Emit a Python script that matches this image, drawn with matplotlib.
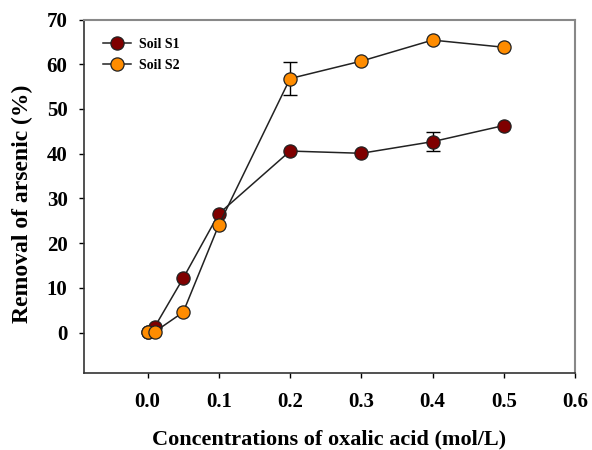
import numpy as np
import matplotlib.pyplot as plt

plt.rcParams['font.family'] = ['Liberation Serif', 'DejaVu Serif']
plt.rcParams['font.weight'] = 'bold'

# Concentrations of oxalic acid (mol/L)
conc = [0.0, 0.01, 0.05, 0.1, 0.2, 0.3, 0.4, 0.5]
soil_s1 = [0.2, 1.3, 12.2, 26.6, 40.6, 40.1, 42.7, 46.3]
soil_s2 = [0.2, 0.2, 4.6, 24.1, 56.8, 60.7, 65.4, 63.8]
err_s1 = [0, 0, 0, 0, 0, 0, 2.1, 0]
err_s2 = [0, 0, 0, 0, 3.7, 0, 0, 0]

x_ticks = [0.0, 0.1, 0.2, 0.3, 0.4, 0.5, 0.6]
y_ticks = [0, 10, 20, 30, 40, 50, 60, 70]

fig = plt.figure(figsize=(5.92, 4.5), dpi=100)
ax = fig.add_axes([83.5 / 592, 1 - 373 / 450, (575 - 83.5) / 592, (373 - 19.5) / 450])

series = [
    (soil_s1, err_s1, '#7f0000', 'Soil S1'),
    (soil_s2, err_s2, '#ff8c00', 'Soil S2'),
]
for vals, errs, color, label in series:
    x = np.array(conc)
    y = np.array(vals)
    e = np.array(errs)
    m = e > 0
    ax.errorbar(x[m], y[m], yerr=e[m], fmt='none', ecolor='black',
                elinewidth=1, capsize=5, capthick=1, zorder=2)
    ax.plot(x, y, color='#222222', lw=1.1, marker='o', markersize=9.5,
            markerfacecolor=color, markeredgecolor='#222222',
            markeredgewidth=0.9, label=label, zorder=3)

ax.set_xlim(-0.09, 0.6)
ax.set_ylim(-9, 70)
ax.set_xticks(x_ticks)
ax.set_yticks(y_ticks)
ax.set_xticklabels(['%.1f' % v for v in x_ticks])
ax.tick_params(direction='out', length=3.5, width=1, labelsize=15)
ax.tick_params(axis='x', pad=10)
ax.tick_params(axis='y', pad=8)

for side in ['left', 'bottom']:
    ax.spines[side].set_linewidth(1.2)
    ax.spines[side].set_color('#333333')
for side in ['top', 'right']:
    ax.spines[side].set_linewidth(1.5)
    ax.spines[side].set_color('#888888')

ax.set_xlabel('Concentrations of oxalic acid (mol/L)', fontsize=16,
              fontweight='bold', labelpad=13)
ax.set_ylabel('Removal of arsenic (%)', fontsize=17, fontweight='bold')
ax.yaxis.set_label_coords(-0.103, 0.478)

leg = ax.legend(loc='upper left', frameon=False, handlelength=2.0,
                borderaxespad=0.5, labelspacing=0.57, handletextpad=0.6,
                bbox_to_anchor=(0.015, 0.984),
                prop={'weight': 'bold', 'size': 10})

fig.savefig('out.png', dpi=100)
